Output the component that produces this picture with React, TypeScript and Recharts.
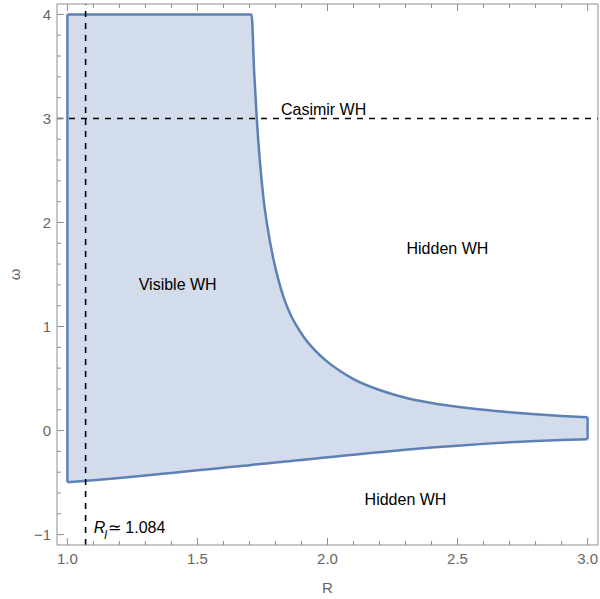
import {
  ComposedChart,
  Area,
  XAxis,
  YAxis,
  ReferenceLine,
  ReferenceDot,
} from "recharts";

const rValues = [
  1.0, 1.1, 1.2, 1.3, 1.4, 1.5, 1.6, 1.708, 1.718, 1.728, 1.741, 1.754, 1.773,
  1.792, 1.81, 1.83, 1.855, 1.88, 1.91, 1.95, 2.0, 2.05, 2.1, 2.2, 2.3, 2.4,
  2.5, 2.6, 2.7, 2.8, 2.9, 3.0,
];
// upper boundary of the visible-WH region (omega)
const upperOmega = [
  4, 4, 4, 4, 4, 4, 4, 4, 3.45, 3.0, 2.56, 2.23, 1.9, 1.65, 1.46, 1.29, 1.13,
  1.01, 0.895, 0.775, 0.66, 0.57, 0.495, 0.39, 0.315, 0.265, 0.228, 0.199,
  0.176, 0.157, 0.141, 0.128,
];
// lower boundary
const lowerOmega = [
  -0.497, -0.478, -0.456, -0.432, -0.407, -0.382, -0.357, -0.33, -0.327,
  -0.325, -0.322, -0.318, -0.314, -0.309, -0.305, -0.3, -0.294, -0.287, -0.28,
  -0.27, -0.257, -0.245, -0.232, -0.208, -0.185, -0.164, -0.145, -0.128,
  -0.113, -0.101, -0.091, -0.083,
];

const xTicks = [
  1.0, 1.1, 1.2, 1.3, 1.4, 1.5, 1.6, 1.7, 1.8, 1.9, 2.0, 2.1, 2.2, 2.3, 2.4,
  2.5, 2.6, 2.7, 2.8, 2.9, 3.0,
];
const yTicks = [
  -1, -0.8, -0.6, -0.4, -0.2, 0, 0.2, 0.4, 0.6, 0.8, 1, 1.2, 1.4, 1.6, 1.8, 2,
  2.2, 2.4, 2.6, 2.8, 3, 3.2, 3.4, 3.6, 3.8, 4,
];

const casimirOmega = 3;
const rThroat = 1.07;

const regionLabels = [
  { text: "Casimir WH", R: 1.985, w: 3.084 },
  { text: "Hidden WH", R: 2.461, w: 1.754 },
  { text: "Visible WH", R: 1.424, w: 1.401 },
  { text: "Hidden WH", R: 2.3, w: -0.657 },
];
const throatLabel = { R: 1.101, w: -0.988, value: "1.084" };

const data = rValues.map((R, i) => ({ R, band: [lowerOmega[i], upperOmega[i]] }));

const FRAME = "#8f8f8f";
const TICK_TEXT = "#666";
const BLUE = "#5E81B5";
const FONT = "'Liberation Sans', Arial, sans-serif";

const isMajor = (v: number, step: number) =>
  Math.abs(v / step - Math.round(v / step)) < 1e-6;

const XTick = (props: any) => {
  const { x, y, payload, side } = props;
  const v = payload.value;
  const major = isMajor(v, 0.5);
  const len = major ? 7 : 4;
  const dir = side === "top" ? 1 : -1;
  return (
    <g>
      <line x1={x} x2={x} y1={y} y2={y + dir * len} stroke={FRAME} />
      {side === "bottom" && major && (
        <text x={x} y={y + 19} textAnchor="middle" fill={TICK_TEXT} fontSize={15} fontFamily={FONT}>
          {v.toFixed(1)}
        </text>
      )}
    </g>
  );
};

const YTick = (props: any) => {
  const { x, y, payload, side } = props;
  const v = payload.value;
  const major = isMajor(v, 1);
  const len = major ? 7 : 4;
  const dir = side === "left" ? 1 : -1;
  return (
    <g>
      <line x1={x} x2={x + dir * len} y1={y} y2={y} stroke={FRAME} />
      {side === "left" && major && (
        <text x={x - 6} y={y} dy="0.35em" textAnchor="end" fill={TICK_TEXT} fontSize={15} fontFamily={FONT}>
          {v < 0 ? "\u2212" + Math.abs(v) : String(v)}
        </text>
      )}
    </g>
  );
};

const App = () => {
  return (
    <div style={{ position: "absolute", left: 0, top: 0 }}>
      <ComposedChart
        width={600}
        height={599}
        data={data}
        margin={{ top: 3, right: 1, bottom: 0, left: 0 }}
      >
        <XAxis
          dataKey="R"
          type="number"
          domain={[0.96, 3.04]}
          ticks={xTicks}
          interval={0}
          height={54}
          stroke={FRAME}
          tickLine={false}
          tickSize={0}
          tickMargin={0}
          tick={<XTick side="bottom" />}
          label={{ value: "R", position: "insideBottom", offset: 6, fill: TICK_TEXT, fontSize: 15, fontFamily: FONT }}
        />
        <XAxis
          xAxisId="top"
          orientation="top"
          dataKey="R"
          type="number"
          domain={[0.96, 3.04]}
          ticks={xTicks}
          interval={0}
          height={1}
          stroke={FRAME}
          tickLine={false}
          tickSize={0}
          tickMargin={0}
          tick={<XTick side="top" />}
        />
        <YAxis
          type="number"
          domain={[-1.1, 4.1]}
          ticks={yTicks}
          interval={0}
          width={57}
          stroke={FRAME}
          tickLine={false}
          tickSize={0}
          tickMargin={0}
          tick={<YTick side="left" />}
          label={{
            content: (p: any) => {
              const vb = p.viewBox;
              const cx = 15;
              const cy = vb.y + vb.height / 2;
              return (
                <text x={cx} y={cy} dy="0.35em" textAnchor="middle" fill={TICK_TEXT} fontSize={15} fontFamily={FONT} transform={`rotate(-90 ${cx} ${cy})`}>
                  ω
                </text>
              );
            },
          }}
        />
        <YAxis
          yAxisId="right"
          orientation="right"
          type="number"
          domain={[-1.1, 4.1]}
          ticks={yTicks}
          interval={0}
          width={1}
          stroke={FRAME}
          tickLine={false}
          tickSize={0}
          tickMargin={0}
          tick={<YTick side="right" />}
        />
        <Area
          dataKey="band"
          type="monotone"
          stroke={BLUE}
          strokeWidth={2.5}
          fill={BLUE}
          fillOpacity={0.28}
          isAnimationActive={false}
          dot={false}
          activeDot={false}
        />
        <ReferenceLine
          segment={[
            { x: rValues[0], y: lowerOmega[0] },
            { x: rValues[0], y: upperOmega[0] },
          ]}
          stroke={BLUE}
          strokeWidth={2.5}
        />
        <ReferenceLine
          segment={[
            { x: rValues[rValues.length - 1], y: lowerOmega[lowerOmega.length - 1] },
            { x: rValues[rValues.length - 1], y: upperOmega[upperOmega.length - 1] },
          ]}
          stroke={BLUE}
          strokeWidth={2.5}
        />
        <ReferenceLine y={casimirOmega} stroke="#000" strokeWidth={1.6} strokeDasharray="6 6" />
        <ReferenceLine x={rThroat} stroke="#000" strokeWidth={1.6} strokeDasharray="6 6" />
        {regionLabels.map((l, i) => (
          <ReferenceDot
            key={i}
            x={l.R}
            y={l.w}
            r={0}
            fill="none"
            stroke="none"
            label={{
              content: (p: any) => (
                <text x={p.viewBox.x} y={p.viewBox.y} dy="0.355em" textAnchor="middle" fill="#000" fontSize={16} fontFamily={FONT}>
                  {l.text}
                </text>
              ),
            }}
          />
        ))}
        <ReferenceDot
          x={throatLabel.R}
          y={throatLabel.w}
          r={0}
          fill="none"
          stroke="none"
          label={{
            content: (p: any) => (
              <text x={p.viewBox.x} y={p.viewBox.y} fill="#000" fontSize={16} fontFamily={FONT}>
                <tspan fontStyle="italic">R</tspan>
                <tspan fontStyle="italic" fontSize={12} dx={-1} dy={6}>l</tspan>
                <tspan dx={1} dy={-6}>{"\u2243 " + throatLabel.value}</tspan>
              </text>
            ),
          }}
        />
      </ComposedChart>
    </div>
  );
};

export default App;
